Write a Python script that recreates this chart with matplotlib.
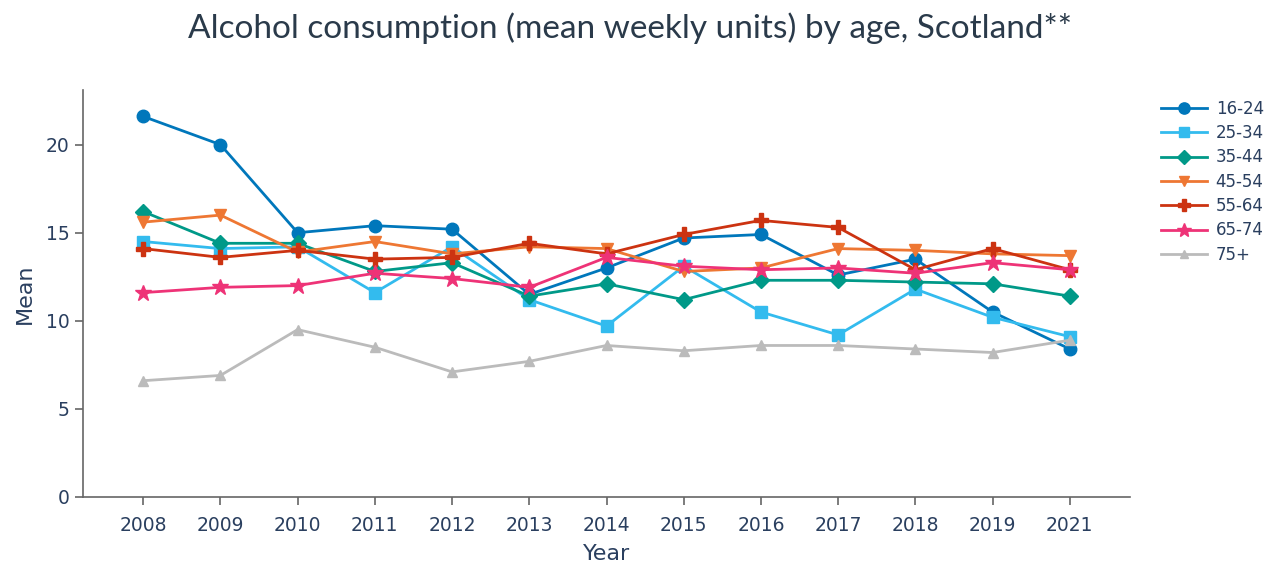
import numpy as np
import matplotlib.pyplot as plt

years = ["2008", "2009", "2010", "2011", "2012", "2013", "2014",
         "2015", "2016", "2017", "2018", "2019", "2021"]

age_16_24 = [21.6, 20.0, 15.0, 15.4, 15.2, 11.5, 13.0, 14.7, 14.9, 12.6, 13.5, 10.5, 8.4]
age_25_34 = [14.5, 14.1, 14.2, 11.6, 14.2, 11.2, 9.7, 13.1, 10.5, 9.2, 11.8, 10.2, 9.1]
age_35_44 = [16.2, 14.4, 14.4, 12.8, 13.3, 11.4, 12.1, 11.2, 12.3, 12.3, 12.2, 12.1, 11.4]
age_45_54 = [15.6, 16.0, 13.9, 14.5, 13.8, 14.2, 14.1, 12.8, 13.0, 14.1, 14.0, 13.8, 13.7]
age_55_64 = [14.1, 13.6, 14.0, 13.5, 13.6, 14.4, 13.8, 14.9, 15.7, 15.3, 12.9, 14.1, 12.9]
age_65_74 = [11.6, 11.9, 12.0, 12.7, 12.4, 11.9, 13.6, 13.1, 12.9, 13.0, 12.7, 13.3, 12.9]
age_75_up = [6.6, 6.9, 9.5, 8.5, 7.1, 7.7, 8.6, 8.3, 8.6, 8.6, 8.4, 8.2, 8.9]

series = [
    ("16-24", age_16_24, "#0077BB", "o", 9),
    ("25-34", age_25_34, "#33BBEE", "s", 8.5),
    ("35-44", age_35_44, "#009988", "D", 8),
    ("45-54", age_45_54, "#EE7733", "v", 8),
    ("55-64", age_55_64, "#CC3311", "P", 10),
    ("65-74", age_65_74, "#EE3377", "*", 12),
    ("75+", age_75_up, "#BBBBBB", "^", 7),
]

text_col = "#2a3f5f"
x = np.arange(len(years))

fig = plt.figure(figsize=(12.65, 5.64), dpi=100)
ax = fig.add_axes([0.0656, 0.1188, 0.8277, 0.7216])

for name, vals, col, mk, ms in series:
    ax.plot(x, vals, color=col, marker=mk, markersize=ms, linewidth=2,
            label=name)

ax.set_xlim(-0.78, 12.78)
ax.set_ylim(0, 23.1)
ax.set_xticks(x)
ax.set_xticklabels(years)
ax.set_yticks([0, 5, 10, 15, 20])

for side in ["top", "right"]:
    ax.spines[side].set_visible(False)
for side in ["left", "bottom"]:
    ax.spines[side].set_color("#666666")
    ax.spines[side].set_linewidth(1.2)
ax.tick_params(colors="#666666", labelcolor=text_col, labelsize=13.5,
               length=6, width=1.2)
ax.tick_params(axis="x", pad=8)

ax.set_xlabel("Year", fontsize=16, color=text_col, labelpad=6)
ax.set_ylabel("Mean", fontsize=16, color=text_col, labelpad=8)

fig.text(0.498, 0.95, "Alcohol consumption (mean weekly units) by age, Scotland**",
         ha="center", va="center", fontsize=24, family="Lato", color="#2a3a4a")

ax.legend(loc="upper left", bbox_to_anchor=(1.015, 1.013), frameon=False,
          fontsize=12, labelcolor=text_col, handlelength=2.8,
          handletextpad=0.5, labelspacing=0.38, markerscale=0.9)

fig.savefig("out.png", dpi=100)
